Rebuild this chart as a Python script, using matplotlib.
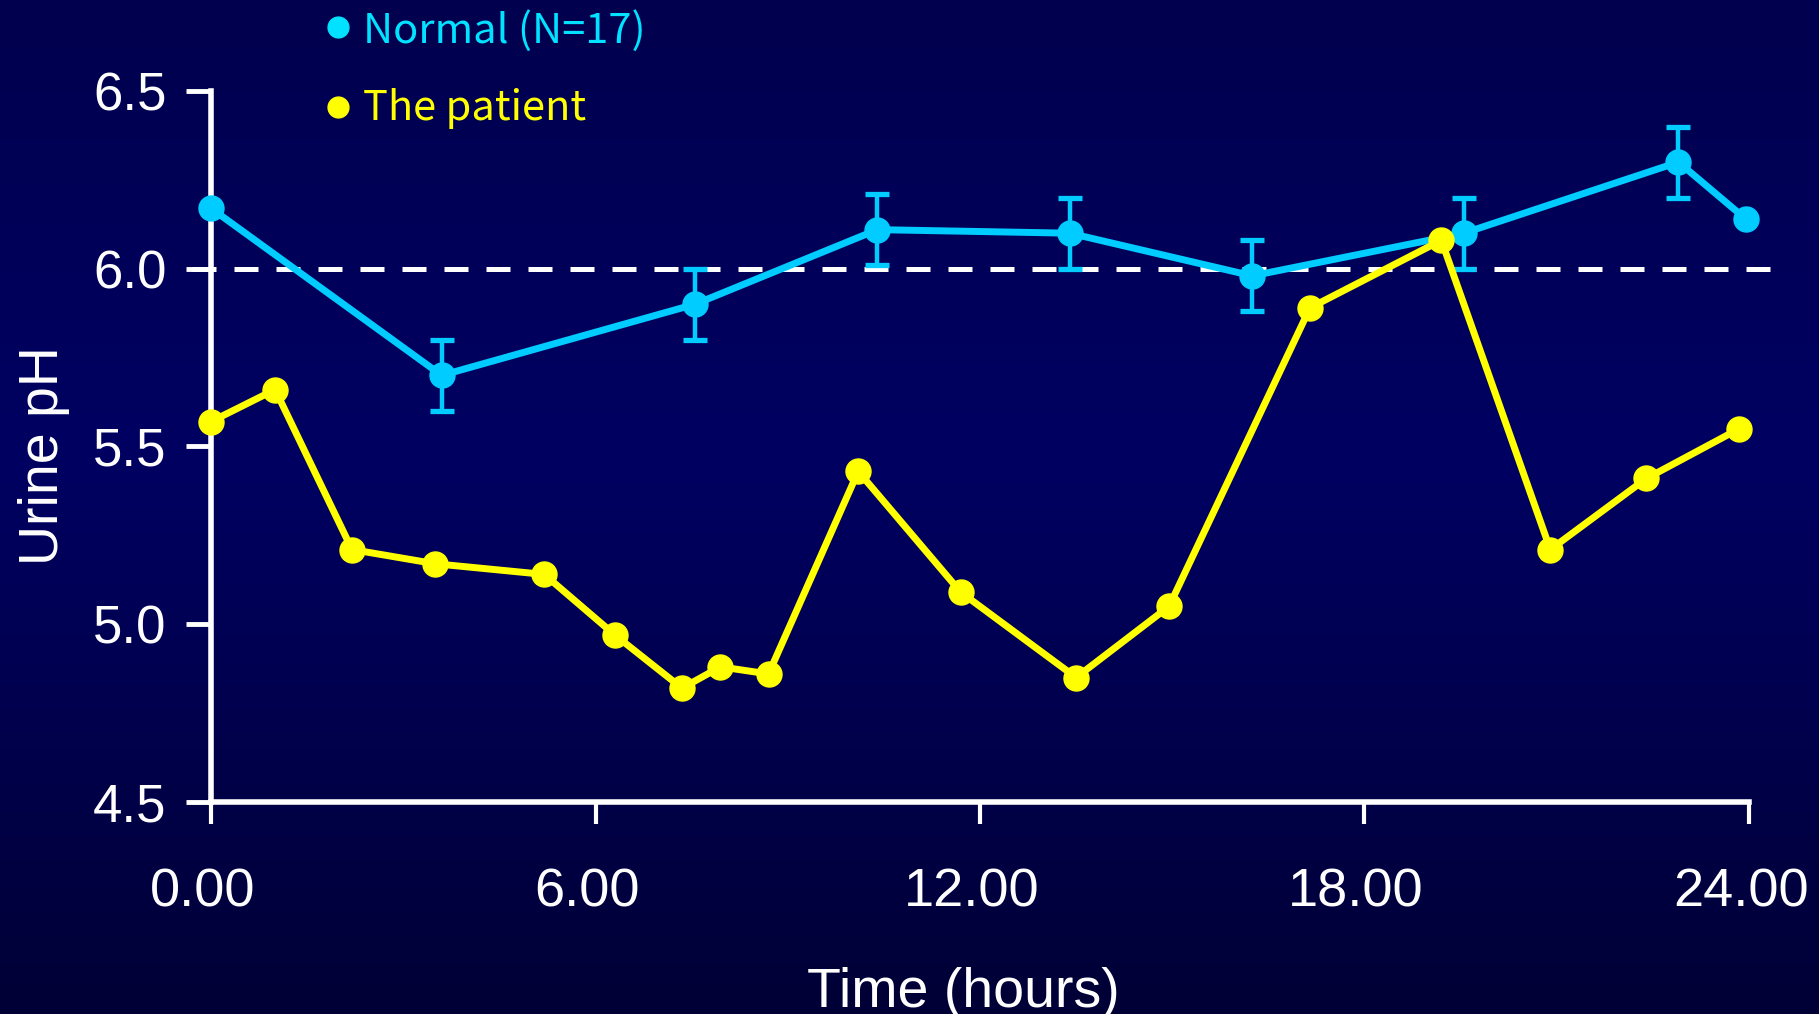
import numpy as np
import matplotlib.pyplot as plt
import matplotlib.transforms as mtransforms
from matplotlib.lines import Line2D

# Urine pH over one day: healthy controls (mean +/- SE) versus the patient
normal_hours = [0.0, 3.6, 7.55, 10.4, 13.4, 16.25, 19.55, 22.9, 23.95]
normal_ph = [6.17, 5.70, 5.90, 6.11, 6.10, 5.98, 6.10, 6.30, 6.14]
normal_err = [0.0, 0.1, 0.1, 0.1, 0.1, 0.1, 0.1, 0.1, 0.0]

patient_hours = [0.0, 1.0, 2.2, 3.5, 5.2, 6.3, 7.35, 7.95, 8.7, 10.1,
                 11.7, 13.5, 14.95, 17.15, 19.2, 20.9, 22.4, 23.85]
patient_ph = [5.57, 5.66, 5.21, 5.17, 5.14, 4.97, 4.82, 4.88, 4.86, 5.43,
              5.09, 4.85, 5.05, 5.89, 6.08, 5.21, 5.41, 5.55]

ref_ph = 6.0
ref_span = (-0.3, 24.4)

x_ticks = [0, 6, 12, 18, 24]
x_labels = ['0.00', '6.00', '12.00', '18.00', '24.00']
y_ticks = [4.5, 5.0, 5.5, 6.0, 6.5]
y_labels = ['4.5', '5.0', '5.5', '6.0', '6.5']

CYAN = '#00CCFF'
CYAN_TEXT = '#00E2FF'
YELLOW = '#FFFF00'
WHITE = 'white'

plt.rcParams['font.family'] = ['Liberation Sans', 'DejaVu Sans']

fig = plt.figure(figsize=(18.19, 10.14), dpi=100)

# dark blue slide background, slightly brighter in the middle
bg = fig.add_axes([0, 0, 1, 1], zorder=-10)
bg.axis('off')
t = np.linspace(0, 1, 256)
top = np.array([0, 0, 0x4E]) / 255
mid = np.array([0, 0, 0x62]) / 255
bot = np.array([0, 0, 0x36]) / 255
cols = np.where(t[:, None] < 0.45,
                top + (mid - top) * (t[:, None] / 0.45),
                mid + (bot - mid) * ((t[:, None] - 0.45) / 0.55))
bg.imshow(np.repeat(cols[:, None, :], 4, axis=1), aspect='auto',
          extent=[0, 1, 0, 1])
bg.set_xlim(0, 1)
bg.set_ylim(0, 1)

ax = fig.add_axes([0.0984, 0.1741, 0.8807, 0.7712])
ax.patch.set_alpha(0)
ax.set_xlim(-0.5, 24.5)
ax.set_ylim(4.4, 6.6)

ax.hlines(ref_ph, *ref_span, colors=WHITE, linewidth=3.6,
          linestyles=(0, (4.8, 3.6)), zorder=2)

ax.errorbar(normal_hours, normal_ph, yerr=normal_err, color=CYAN,
            linewidth=5, marker='o', markersize=18, elinewidth=3.2,
            capsize=8.5, capthick=3.8, zorder=3)
ax.plot(patient_hours, patient_ph, color=YELLOW, linewidth=5,
        marker='o', markersize=18, zorder=4, clip_on=False)

for side in ['top', 'right']:
    ax.spines[side].set_visible(False)
ax.spines['left'].set_position(('data', 0))
ax.spines['bottom'].set_position(('data', 4.5))
ax.spines['left'].set_bounds(4.5, 6.5)
ax.spines['bottom'].set_bounds(0, 24)
for side in ['left', 'bottom']:
    ax.spines[side].set_color(WHITE)
    ax.spines[side].set_linewidth(4)

ax.set_xticks(x_ticks)
ax.set_xticklabels(x_labels)
ax.set_yticks(y_ticks)
ax.set_yticklabels(y_labels)
ax.tick_params(axis='y', direction='out', length=18, width=3.5,
               color=WHITE, labelcolor=WHITE, labelsize=38, pad=14)
ax.tick_params(axis='x', direction='out', length=16, width=3,
               color=WHITE, labelcolor=WHITE, labelsize=39, pad=31)

# nudge the hour labels a little to the left
shift = mtransforms.ScaledTranslation(-6 / 72, 0, fig.dpi_scale_trans)
for lbl in ax.get_xticklabels():
    lbl.set_transform(lbl.get_transform() + shift)

fig.text(963 / 1819, 0.007, 'Time (hours)', color=WHITE, fontsize=40,
         ha='center', va='baseline')
fig.text(0.024, 0.551, 'Urine pH', color=WHITE, fontsize=40,
         rotation=90, ha='center', va='center')

# legend drawn by hand at the top left
legend_rows = [('Normal (N=17)', CYAN_TEXT, 0.9734, 0.9576),
               ('The patient', YELLOW, 0.8945, 0.8817)]
for label, col, ym, yb in legend_rows:
    fig.add_artist(Line2D([338 / 1819], [ym], marker='o', markersize=15,
                          color=col, linestyle='none',
                          transform=fig.transFigure))
    fig.text(363 / 1819, yb, label, color=col, fontsize=30,
             family=['Noto Sans CJK JP', 'DejaVu Sans'], va='baseline')

fig.savefig('out.png', dpi=100, facecolor='#000050')
